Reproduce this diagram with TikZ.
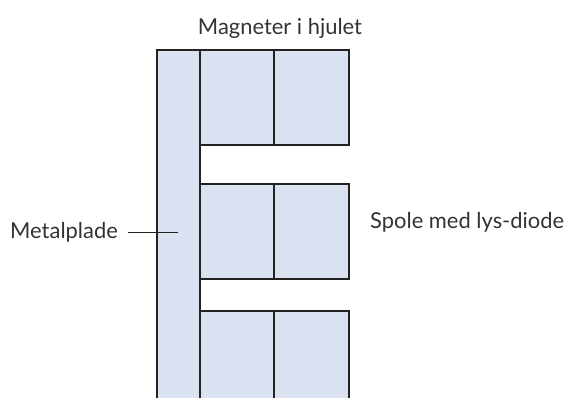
\documentclass[tikz,border=0pt]{standalone}
\usepackage{fontspec}
\setmainfont{Lato}
\definecolor{plade}{HTML}{DAE1F0}
\definecolor{kant}{HTML}{222222}

\begin{document}
\begin{tikzpicture}[x=1bp,y=-1bp,
  felt/.style={fill=plade, draw=kant, line width=1.5bp},
  tekst/.style={text=black!80, font=\fontsize{22}{26}\selectfont, inner sep=0pt}]
\useasboundingbox (0,0) rectangle (577,398);
% Metalplade (open at the bottom)
\fill[plade] (157,50) rectangle (200,398);
\draw[kant, line width=1.5bp] (157,398) -- (157,50) -- (200,50) -- (200,398);
% Magneter i hjulet
\foreach \y/\h in {50/145, 184/279} {
  \draw[felt] (200,\y) rectangle (274,\h);
  \draw[felt] (274,\y) rectangle (349,\h);
}
\fill[plade] (200,311) rectangle (349,398);
\draw[kant, line width=1.5bp] (200,398) -- (200,311) -- (349,311) -- (349,398);
\draw[kant, line width=1.5bp] (274,311) -- (274,398);
% labels
\node[tekst] (magnet) at (280,28) {Magneter i hjulet};
\node[tekst, anchor=west] (spole) at (370,222) {Spole med lys-diode};
\node[tekst, anchor=west] (plade) at (10,232) {Metalplade};
\coordinate (pladeind) at (178,232);
\draw[kant, line width=0.8bp] ([xshift=10bp]plade.east |- pladeind) -- (pladeind);
\end{tikzpicture}
\end{document}
